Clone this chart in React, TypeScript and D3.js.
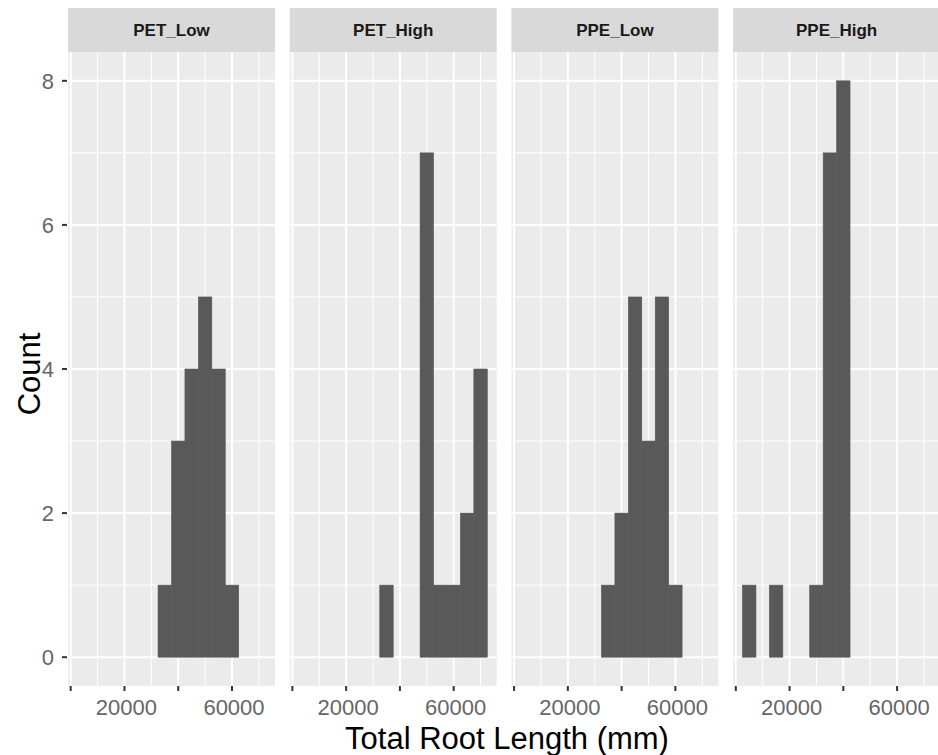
import { useEffect, useRef } from "react";
import * as d3 from "d3";

// histogram bins (width 5000), centres
const binCenters = [5000, 10000, 15000, 20000, 25000, 30000, 35000, 40000, 45000, 50000, 55000, 60000, 65000, 70000];

const facets = ["PET_Low", "PET_High", "PPE_Low", "PPE_High"];

const petLow = [0, 0, 0, 0, 0, 0, 1, 3, 4, 5, 4, 1, 0, 0];
const petHigh = [0, 0, 0, 0, 0, 0, 1, 0, 0, 7, 1, 1, 2, 4];
const ppeLow = [0, 0, 0, 0, 0, 0, 1, 2, 5, 3, 5, 1, 0, 0];
const ppeHigh = [1, 0, 1, 0, 0, 1, 7, 8, 0, 0, 0, 0, 0, 0];

const xTicks = [0, 20000, 40000, 60000];
const xLabelled = [20000, 60000];
const xMinor = [10000, 30000, 50000, 70000];
const yTicks = [0, 2, 4, 6, 8];
const yMinor = [1, 3, 5, 7];

const binWidth = 5000;

export default function App() {
    const svgRef = useRef<SVGSVGElement>(null);

    useEffect(() => {
        const width = 938;
        const height = 755;
        const svg = d3.select(svgRef.current);
        svg.selectAll("*").remove();

        const counts = [petLow, petHigh, ppeLow, ppeHigh];

        const panelLeft = 68;
        const panelStep = 221.7;
        const panelW = 207;
        const top = 52;
        const bottom = 686;
        const stripTop = 8;

        const y = d3.scaleLinear().domain([-0.4, 8.4]).range([bottom, top]);

        svg.append("rect").attr("width", width).attr("height", height).attr("fill", "white");

        facets.forEach((name, i) => {
            const left = panelLeft + i * panelStep;
            const x = d3.scaleLinear().domain([-1000, 76000]).range([left, left + panelW]);
            const g = svg.append("g");

            // strip
            g.append("rect")
                .attr("x", left).attr("y", stripTop)
                .attr("width", panelW).attr("height", top - stripTop)
                .attr("fill", "#d9d9d9");
            g.append("text")
                .attr("x", left + panelW / 2).attr("y", (stripTop + top) / 2 + 6)
                .attr("text-anchor", "middle")
                .attr("font-family", "Liberation Sans, Arial, sans-serif")
                .attr("font-weight", "bold")
                .attr("font-size", "17px")
                .attr("fill", "#1a1a1a")
                .text(name);

            // panel background
            g.append("rect")
                .attr("x", left).attr("y", top)
                .attr("width", panelW).attr("height", bottom - top)
                .attr("fill", "#ebebeb");

            // grid
            xMinor.forEach(v => {
                g.append("line").attr("x1", x(v)).attr("x2", x(v))
                    .attr("y1", top).attr("y2", bottom)
                    .attr("stroke", "white").attr("stroke-width", 1);
            });
            yMinor.forEach(v => {
                g.append("line").attr("x1", left).attr("x2", left + panelW)
                    .attr("y1", y(v)).attr("y2", y(v))
                    .attr("stroke", "white").attr("stroke-width", 1);
            });
            xTicks.forEach(v => {
                g.append("line").attr("x1", x(v)).attr("x2", x(v))
                    .attr("y1", top).attr("y2", bottom)
                    .attr("stroke", "white").attr("stroke-width", 2);
            });
            yTicks.forEach(v => {
                g.append("line").attr("x1", left).attr("x2", left + panelW)
                    .attr("y1", y(v)).attr("y2", y(v))
                    .attr("stroke", "white").attr("stroke-width", 2);
            });

            // bars
            const data = binCenters.map((c, j) => ({ c, n: counts[i][j] })).filter(d => d.n > 0);
            g.selectAll("rect.bar")
                .data(data)
                .enter()
                .append("rect")
                .attr("class", "bar")
                .attr("x", d => x(d.c - binWidth / 2))
                .attr("width", d => x(d.c + binWidth / 2) - x(d.c - binWidth / 2))
                .attr("y", d => y(d.n))
                .attr("height", d => y(0) - y(d.n))
                .attr("fill", "#595959")
                .attr("stroke", "#595959")
                .attr("stroke-width", 0.6);

            // x axis ticks
            xTicks.forEach(v => {
                g.append("line").attr("x1", x(v)).attr("x2", x(v))
                    .attr("y1", bottom).attr("y2", bottom + 5)
                    .attr("stroke", "#333").attr("stroke-width", 2);
            });
            xLabelled.forEach(v => {
                g.append("text")
                    .attr("x", x(v) + 2).attr("y", 715)
                    .attr("text-anchor", "middle")
                    .attr("font-family", "Liberation Sans, Arial, sans-serif")
                    .attr("font-size", "22px")
                    .attr("fill", "#666")
                    .text(v);
            });
        });

        // y axis
        yTicks.forEach(v => {
            svg.append("line").attr("x1", panelLeft - 6).attr("x2", panelLeft - 1)
                .attr("y1", y(v)).attr("y2", y(v))
                .attr("stroke", "#333").attr("stroke-width", 2);
            svg.append("text")
                .attr("x", 54).attr("y", y(v) + 8)
                .attr("text-anchor", "end")
                .attr("font-family", "Liberation Sans, Arial, sans-serif")
                .attr("font-size", "22px")
                .attr("fill", "#666")
                .text(v);
        });

        // titles
        svg.append("text")
            .attr("x", 507).attr("y", 749)
            .attr("text-anchor", "middle")
            .attr("font-family", "Liberation Sans, Arial, sans-serif")
            .attr("font-size", "31px")
            .attr("fill", "black")
            .text("Total Root Length (mm)");
        svg.append("text")
            .attr("transform", "translate(40,374) rotate(-90)")
            .attr("text-anchor", "middle")
            .attr("font-family", "Liberation Sans, Arial, sans-serif")
            .attr("font-size", "31px")
            .attr("fill", "black")
            .text("Count");
    }, []);

    return (
        <svg ref={svgRef} width={938} height={755}
            style={{ position: "absolute", left: 0, top: 0, display: "block" }} />
    );
}
